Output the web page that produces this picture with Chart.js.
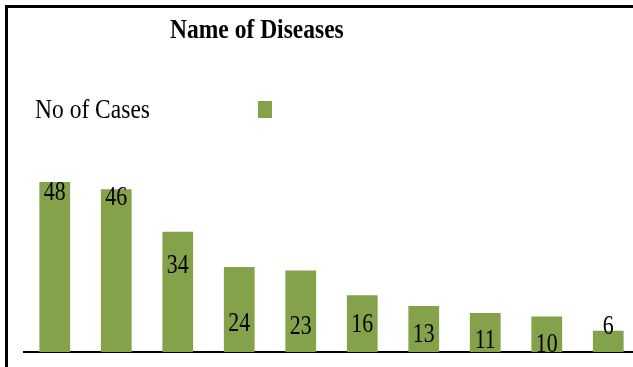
<!DOCTYPE html>
<html>
<head>
<meta charset="utf-8">
<script src="https://cdn.jsdelivr.net/npm/chart.js@4/dist/chart.umd.min.js"></script>
<style>
  html, body { margin: 0; padding: 0; background: #fff; overflow: hidden; }
  #wrap { position: relative; width: 633px; height: 367px; overflow: hidden; }
  #chart { position: absolute; left: 0; top: 0; }
  #frame {
    position: absolute; left: 5px; top: 5px; width: 640px; height: 370px;
    border-top: 3px solid #000; border-left: 3px solid #000;
    pointer-events: none;
  }
</style>
</head>
<body>
<div id="wrap">
  <canvas id="chart" width="645" height="367"></canvas>
  <div id="frame"></div>
</div>
<script>
// Cases per disease, sorted from most to least frequent
const categories = ['Disease 1', 'Disease 2', 'Disease 3', 'Disease 4', 'Disease 5',
                    'Disease 6', 'Disease 7', 'Disease 8', 'Disease 9', 'Disease 10'];
const cases = [48, 46, 34, 24, 23, 16, 13, 11, 10, 6];
const seriesName = 'No of Cases';
const chartTitle = 'Name of Diseases';

// Vertical level (in axis units) where each value label sits
const labelLevels = [44.9, 43.5, 24.3, 7.9, 7.1, 7.6, 4.8, 3.1, 2.0, 7.3];

const barColor = '#84a24a';
const serif = "'Liberation Serif', 'Times New Roman', serif";

// Title and legend drawn in a narrow serif face above the plot
const headerPlugin = {
  id: 'header',
  afterDraw(chart, args, opts) {
    const ctx = chart.ctx;
    ctx.save();
    ctx.fillStyle = '#000';
    ctx.textBaseline = 'alphabetic';
    ctx.textAlign = 'left';

    ctx.save();
    ctx.scale(opts.squeeze, 1);
    ctx.font = 'bold 28px ' + serif;
    ctx.fillText(chartTitle, 170 / opts.squeeze, 38);
    ctx.font = '28px ' + serif;
    ctx.fillText(chart.data.datasets[0].label, 35 / opts.squeeze, 118);
    ctx.restore();

    ctx.fillStyle = chart.data.datasets[0].backgroundColor;
    ctx.fillRect(258, 101, 14, 17);
    ctx.restore();
  }
};

// Value labels placed on each bar
const valueLabelPlugin = {
  id: 'valueLabels',
  afterDatasetsDraw(chart, args, opts) {
    const ctx = chart.ctx;
    const meta = chart.getDatasetMeta(0);
    const yScale = chart.scales.y;
    const values = chart.data.datasets[0].data;
    ctx.save();
    ctx.fillStyle = '#000';
    ctx.font = '28px ' + serif;
    ctx.textAlign = 'center';
    ctx.textBaseline = 'middle';
    meta.data.forEach((bar, i) => {
      const y = yScale.getPixelForValue(opts.levels[i]);
      ctx.save();
      ctx.translate(bar.x, y);
      ctx.scale(opts.squeeze, 1);
      ctx.fillText(String(values[i]), 0, 0);
      ctx.restore();
    });
    ctx.restore();
  }
};

new Chart(document.getElementById('chart'), {
  type: 'bar',
  data: {
    labels: categories,
    datasets: [{
      label: seriesName,
      data: cases,
      backgroundColor: barColor,
      borderWidth: 0,
      categoryPercentage: 1.0,
      barPercentage: 0.5
    }]
  },
  options: {
    responsive: false,
    animation: false,
    events: [],
    layout: { padding: { top: 175, left: 24, right: 6, bottom: 15 } },
    plugins: {
      legend: { display: false },
      title: { display: false },
      tooltip: { enabled: false },
      header: { squeeze: 0.84 },
      valueLabels: { levels: labelLevels, squeeze: 0.78 }
    },
    scales: {
      x: {
        display: true,
        ticks: { display: false },
        grid: { display: false, drawTicks: false },
        border: { display: true, color: '#000', width: 2 }
      },
      y: {
        display: false,
        min: 0,
        max: 50
      }
    }
  },
  plugins: [headerPlugin, valueLabelPlugin]
});
</script>
</body>
</html>
